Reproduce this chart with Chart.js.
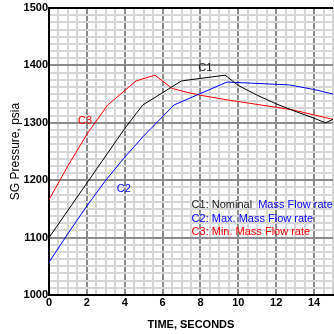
<!DOCTYPE html>
<html>
<head>
<meta charset="utf-8">
<script src="https://cdn.jsdelivr.net/npm/chart.js@4"></script>
<style>
  html, body { margin: 0; padding: 0; background: #fff; }
  #wrap { width: 334px; height: 334px; }
</style>
</head>
<body>
<div id="wrap"><canvas id="sgChart"></canvas></div>
<script>
// curves (time in s, SG pressure in psia)
const c1Time = [0, 2, 4, 4.95, 7, 9.3, 10, 11, 12, 13, 14, 14.6, 15];
const c1Pressure = [1100, 1195, 1290, 1331, 1373, 1383, 1365, 1348, 1333, 1320, 1308, 1300, 1306];

const c2Time = [0, 1, 2, 3, 4, 5, 6.6, 9.4, 10.7, 12.7, 14, 15];
const c2Pressure = [1057, 1107, 1155, 1200, 1240, 1277, 1331, 1371, 1369, 1366, 1358, 1350];

const c3Time = [0, 1, 2, 3.1, 4.6, 5.6, 6.5, 7.3, 8, 9.4, 10.6, 12.8, 15];
const c3Pressure = [1166, 1225, 1280, 1331, 1373, 1383, 1360, 1353, 1348, 1340, 1334, 1323, 1306];

// axis ticks: labels every 2 s / 100 psia, finer grid in between
const timeTicks = [];
for (let t = 0; t <= 15; t += 0.5) timeTicks.push(t);
const pressureTicks = [];
for (let p = 1000; p <= 1500; p += 12.5) pressureTicks.push(p);

const curveNames = ['C1', 'C2', 'C3'];
const curveColors = ['#000000', '#0000ff', '#ff0000'];

function toPoints(xs, ys) {
  return xs.map((x, i) => ({ x: x, y: ys[i] }));
}

// text notes drawn in data coordinates
const notes = [
  { text: 'C1', x: 8.26, y: 1395, color: '#222222' },
  { text: 'C2', x: 3.95, y: 1184, color: '#0000ff' },
  { text: 'C3', x: 1.9, y: 1303, color: '#ff0000' },
];
const legendLines = [
  [{ text: 'C1: Nominal  ', color: '#222222' }, { text: 'Mass Flow rate', color: '#0000ff' }],
  [{ text: 'C2: Max. Mass Flow rate', color: '#0000ff' }],
  [{ text: 'C3: Min. Mass Flow rate', color: '#ff0000' }],
];

const notesPlugin = {
  id: 'notes',
  afterDatasetsDraw(chart) {
    const { ctx, chartArea, scales } = chart;
    ctx.save();
    // frame: top edge (left/bottom come from the axis borders)
    ctx.strokeStyle = '#000';
    ctx.lineWidth = 2;
    ctx.beginPath();
    ctx.moveTo(chartArea.left, chartArea.top);
    ctx.lineTo(chartArea.right, chartArea.top);
    ctx.stroke();

    ctx.font = '11px "Liberation Sans", Arial, sans-serif';
    ctx.textBaseline = 'middle';
    ctx.textAlign = 'center';
    notes.forEach(n => {
      ctx.fillStyle = n.color;
      ctx.fillText(n.text, scales.x.getPixelForValue(n.x), scales.y.getPixelForValue(n.y));
    });

    ctx.textAlign = 'left';
    const lx = scales.x.getPixelForValue(7.53);
    const ly = scales.y.getPixelForValue(1156);
    legendLines.forEach((parts, row) => {
      let px = lx;
      parts.forEach(p => {
        ctx.fillStyle = p.color;
        ctx.fillText(p.text, px, ly + row * 13.5);
        px += ctx.measureText(p.text).width;
      });
    });
    ctx.restore();
  },
};

const ctx = document.getElementById('sgChart').getContext('2d');
new Chart(ctx, {
  type: 'line',
  data: {
    datasets: [
      { label: curveNames[0], data: toPoints(c1Time, c1Pressure), borderColor: curveColors[0] },
      { label: curveNames[1], data: toPoints(c2Time, c2Pressure), borderColor: curveColors[1] },
      { label: curveNames[2], data: toPoints(c3Time, c3Pressure), borderColor: curveColors[2] },
    ],
  },
  options: {
    responsive: true,
    maintainAspectRatio: false,
    animation: false,
    events: [],
    layout: { padding: { top: 8, left: 0, right: 0, bottom: 0 } },
    elements: {
      line: { borderWidth: 1, tension: 0, fill: false },
      point: { radius: 0 },
    },
    plugins: {
      legend: { display: false },
      tooltip: { enabled: false },
    },
    scales: {
      x: {
        type: 'linear',
        min: 0,
        max: 15,
        afterBuildTicks: axis => { axis.ticks = timeTicks.map(v => ({ value: v })); },
        afterFit: axis => { axis.height = 39; },
        grid: {
          drawTicks: false,
          color: c => (c.tick && c.tick.value % 2 === 0 ? '#8c8c8c' : '#d6d6d6'),
          lineWidth: 2,
        },
        border: { color: '#000', width: 2 },
        ticks: {
          autoSkip: false,
          maxRotation: 0,
          padding: 1,
          color: '#000',
          font: { family: '"Liberation Sans", Arial, sans-serif', size: 11, weight: 'bold' },
          callback: v => (v % 2 === 0 ? String(v) : ''),
        },
        title: {
          display: true,
          text: 'TIME, SECONDS',
          color: '#000',
          padding: { top: 0, bottom: 2 },
          font: { family: '"Liberation Sans", Arial, sans-serif', size: 11, weight: 'bold' },
        },
      },
      y: {
        type: 'linear',
        min: 1000,
        max: 1500,
        afterBuildTicks: axis => { axis.ticks = pressureTicks.map(v => ({ value: v })); },
        afterFit: axis => { axis.width = 49; },
        grid: {
          drawTicks: false,
          color: c => (c.tick && c.tick.value % 100 === 0 ? '#8c8c8c' : '#d6d6d6'),
          lineWidth: 2,
        },
        border: { color: '#000', width: 2 },
        ticks: {
          autoSkip: false,
          padding: 1,
          color: '#000',
          font: { family: '"Liberation Sans", Arial, sans-serif', size: 11, weight: 'bold' },
          callback: v => (v % 100 === 0 ? String(v) : ''),
        },
        title: {
          display: true,
          text: 'SG Pressure, psia',
          color: '#000',
          padding: { top: 8, bottom: 0 },
          font: { family: '"Liberation Sans", Arial, sans-serif', size: 12 },
        },
      },
    },
  },
  plugins: [notesPlugin],
});
</script>
</body>
</html>
